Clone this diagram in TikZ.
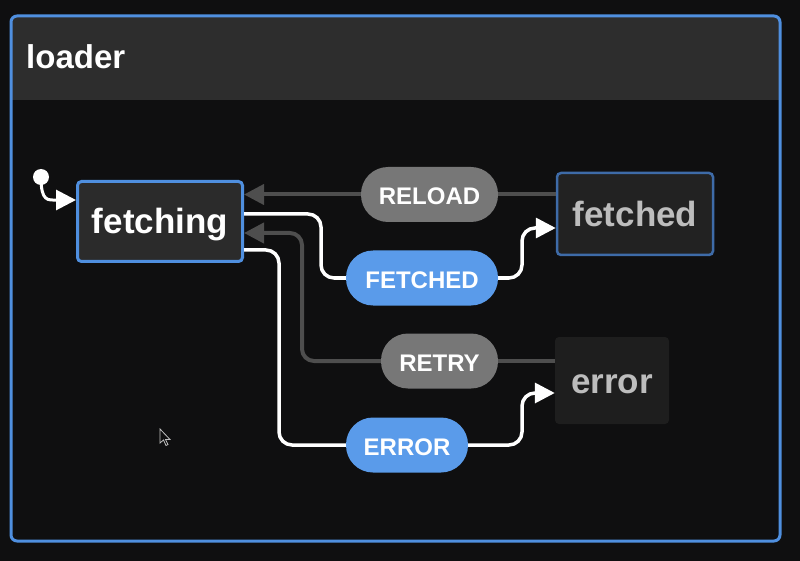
\documentclass[tikz,border=0pt]{standalone}
\usepackage{fontspec}
\setmainfont{Liberation Sans}
\usetikzlibrary{arrows.meta}
\definecolor{bg}{HTML}{0F0F10}
\definecolor{hdr}{HTML}{2D2D2D}
\definecolor{blueb}{HTML}{4F8FDF}
\definecolor{pillblue}{HTML}{5A9BEA}
\definecolor{pillgray}{HTML}{777777}
\definecolor{edgegray}{HTML}{4E4E4E}
\definecolor{fillA}{HTML}{2B2B2B}
\definecolor{fillB}{HTML}{222222}
\definecolor{fillC}{HTML}{1E1E1E}
\definecolor{dimtext}{HTML}{BDBDBD}
\definecolor{fetchedborder}{HTML}{3E6BA8}
\tikzset{
  statebox/.style={rectangle, rounded corners=4pt, inner sep=0pt, text height=32pt, text depth=7pt, font=\fontsize{35}{38}\selectfont\bfseries},
  pill/.style={rectangle, rounded corners=27pt, inner sep=0pt, minimum height=55pt, text height=21pt, text depth=0pt, text=white, font=\fontsize{24}{27}\selectfont\bfseries},
  gedge/.style={draw=edgegray, line width=4pt, rounded corners=12pt},
  wedge/.style={draw=white, line width=3.5pt, rounded corners=13pt},
  gtip/.style={-{Triangle[length=20pt,width=20pt]}},
}
\begin{document}
\begin{tikzpicture}[x=1pt,y=-1pt]
\useasboundingbox (0,0) rectangle (800,561);
\fill[bg] (0,0) rectangle (800,561);
% outer container
\begin{scope}
  \clip[rounded corners=6pt] (11,16) rectangle (780,541);
  \fill[hdr] (11,16) rectangle (780,100);
\end{scope}
\draw[blueb, line width=3pt, rounded corners=6pt] (11,16) rectangle (780,541);
\node[anchor=base west, text=white, font=\fontsize{33}{36}\selectfont\bfseries, inner sep=0pt] (title) at (26,69) {loader};

% states
\node[statebox, draw=blueb, line width=3pt, fill=fillA, text=white, minimum width=165pt, minimum height=80pt] (fetching) at (160,221.5) {fetching};
\node[statebox, draw=fetchedborder, line width=2.5pt, fill=fillB, text=dimtext, minimum width=156pt, minimum height=82pt] (fetched) at (635,214) {fetched};
\node[statebox, fill=fillC, text=dimtext, minimum width=114pt, minimum height=87pt] (error) at (612,380.5) {error};

% event pills
\node[pill, fill=pillgray, minimum width=137pt] (reload) at (429.5,194.5) {RELOAD};
\node[pill, fill=pillblue, minimum width=152pt] (fetchedev) at (422,278) {FETCHED};
\node[pill, fill=pillgray, minimum width=117pt] (retry) at (439.5,361) {RETRY};
\node[pill, fill=pillblue, minimum width=122pt] (errorev) at (407,445) {ERROR};

% initial
\fill[white] (41,177) circle (8pt);
\coordinate (init) at (41,177);
\draw[draw=white, line width=3pt, gtip] (init) .. controls (41,202) and (48,200) .. ([yshift=21.5pt]fetching.west);

% RELOAD (gray)
\draw[gedge] (reload.east -| fetched.west) -- (reload.east);
\draw[gedge, gtip] (reload.west) -- (reload.west -| fetching.east);

% RETRY (gray)
\draw[gedge] (retry.east -| error.west) -- (retry.east);
\draw[gedge, gtip] (retry.west) -- (302,361) -- (302,233) -- ([yshift=-11.5pt]fetching.east);

% FETCHED (white)
\draw[wedge] ([yshift=7.5pt]fetching.east) -- (321,214) -- (321,278) -- (fetchedev.west);
\draw[wedge, gtip] (fetchedev.east) -- (522,278) -- (522,228) -- ([yshift=-14pt]fetched.west);

% ERROR (white)
\draw[wedge] ([yshift=-28.5pt]fetching.east) -- (279,250) -- (279,445) -- (errorev.west);
\draw[wedge, gtip] (errorev.east) -- (522,445) -- (522,393) -- ([yshift=-12.5pt]error.west);

% mouse cursor
\draw[white!75!black, line width=0.8pt, fill=bg] (160,429) -- (160,443) -- (163.5,440) -- (166,445.5) -- (168,444.5) -- (165.5,439.5) -- (170,439.5) -- cycle;
\end{tikzpicture}
\end{document}
